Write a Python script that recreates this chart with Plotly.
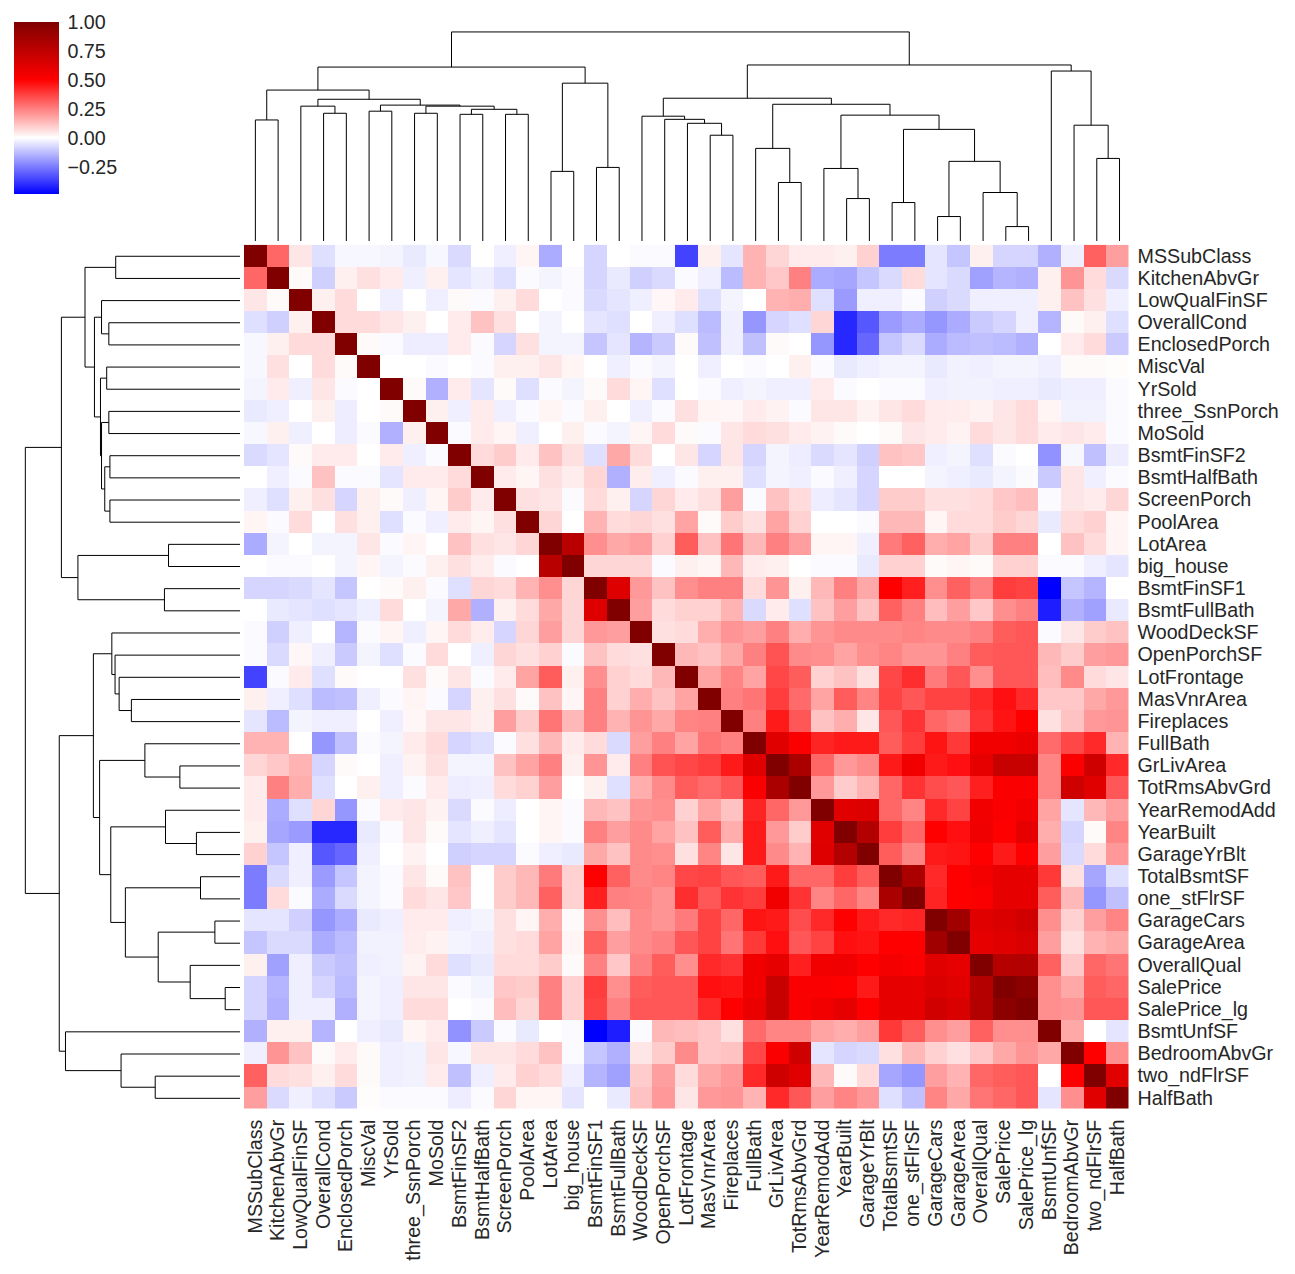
import plotly.graph_objects as go

labels = ["MSSubClass","KitchenAbvGr","LowQualFinSF","OverallCond","EnclosedPorch","MiscVal","YrSold",
          "three_SsnPorch","MoSold","BsmtFinSF2","BsmtHalfBath","ScreenPorch","PoolArea","LotArea","big_house",
          "BsmtFinSF1","BsmtFullBath","WoodDeckSF","OpenPorchSF","LotFrontage","MasVnrArea","Fireplaces",
          "FullBath","GrLivArea","TotRmsAbvGrd","YearRemodAdd","YearBuilt","GarageYrBlt","TotalBsmtSF",
          "one_stFlrSF","GarageCars","GarageArea","OverallQual","SalePrice","SalePrice_lg","BsmtUnfSF",
          "BedroomAbvGr","two_ndFlrSF","HalfBath"]

# Upper triangle of the correlation matrix, one list per row, starting right of the diagonal
corr_upper = [
 [.30,.05,-.06,-.015,-.015,-.02,-.04,-.015,-.07,0,-.03,.02, -.16,0,-.08,0,-.01,-.01,-.36,.03,-.05,.15,.08,.04,.04, .03,.09,-.25,-.25,-.05,-.11,.03,-.08,-.08,-.15,-.03,.31,.19],
 [.01,-.09,.03,.06,.04,-.03,.03,-.05,-.03,-.06,-.01, -.02,-.01,-.08,-.04,-.09,-.07,-.01,-.03,-.13,.15,.11,.25,-.16, -.17,-.11,-.07,.07,-.05,-.07,-.18,-.14,-.15,.03,.21,.07,-.07],
 [.03,.07,0,-.03,0,-.03,.01,-.01,.03,.07, 0,-.01,-.07,-.05,-.03,.015,.04,-.06,-.02,0,.15,.16,-.06, -.19,-.03,-.03,-.01,-.09,-.07,-.03,-.03,-.03,.03,.12,.06,-.03],
 [.07,.07,.05,.03,0,.04,.12,.06,0, -.02,0,-.05,-.06,0,-.03,-.06,-.13,-.03,-.2,-.08,-.06,.08, -.41,-.32,-.19,-.16,-.2,-.16,-.1,-.08,-.03,-.14,.01,.03,-.06],
 [.01,-.01,-.035,-.035,.04,-.01,-.08,.06, -.02,-.02,-.11,-.05,-.14,-.1,.01,-.12,-.03,-.12,.01,0,-.2, -.41,-.29,-.11,-.07,-.16,-.13,-.12,-.13,-.15,0,.04,.07,-.1],
 [0,0,-.01,0,-.01,.03,.03, .05,.02,0,-.03,-.01,-.02,0,-.03,0,-.01,0,.03,-.01, -.04,-.03,-.02,-.02,-.04,-.025,-.03,-.02,-.02,-.03,.01,.01,.005],
 [.01,-.15,.04,-.05,.01,-.06, -.01,-.02,.01,.07,.02,-.06,0,-.01,-.03,-.02,-.03,-.03,.04, -.01,0,-.01,-.01,-.03,-.025,-.025,-.03,-.03,-.04,-.03,-.03,-.01],
 [.03,-.03,.04,-.03,-.01, .02,-.01,.03,0,-.03,-.01,.06,.02,.015,.04,.025,-.01,.05, .05,.025,.05,.07,.04,.035,.025,.05,.07,.02,-.025,-.025,-.01],
 [-.01,.04,.02,-.03, 0,.03,-.01,-.02,.02,.07,.01,-.01,.05,.07,.06,.04,.025, .01,0,.01,.05,.04,.025,.07,.05,.07,.04,.05,.04,-.01],
 [.07,.1,.04, .12,.06,-.06,.17,.07,0,.05,-.08,.05,-.08,-.02,-.035,-.07, -.05,-.09,.12,.11,-.03,-.02,-.06,-.01,0,-.21,-.015,-.12,-.035],
 [.04,.02, .06,.035,.08,-.15,.035,-.03,-.01,.03,.03,-.06,-.02,-.03,-.01, -.03,-.08,0,0,-.02,-.03,-.04,-.02,-.01,-.1,.05,-.03,-.01],
 [.06, .05,-.01,.07,.03,-.08,.08,.04,.06,.19,-.01,.12,.07,-.035, -.05,-.08,.1,.1,.06,.06,.07,.11,.13,-.01,.05,.04,.08],
 [.08,0,.15,.07,.08,.06,.18,.01,.1,.06,.18,.09,0, 0,-.01,.14,.14,.02,.07,.07,.1,.08,-.04,.07,.09,.02],
 [.78,.22,.17,.19,.09,.32,.12,.27,.14,.25,.19,.02, .02,-.03,.26,.31,.16,.18,.1,.25,.25,0,.12,.07,.02],
 [.08,.08,.08,-.01,.03,.02,.14,.04,.03,0,-.01, -.01,-.04,.09,.09,.01,.02,.01,.09,.09,-.01,-.01,-.03,-.05],
 [.63,.2,.12,.22,.25,.25,.07,.21,.03,.14, .25,.17,.5,.44,.22,.31,.25,.38,.37,-.485,-.11,-.14,0],
 [.19,.07,.09,.09,.15,-.07,.04,-.06,.12, .19,.12,.31,.25,.13,.19,.11,.22,.25,-.43,-.15,-.18,-.04],
 [.06,.07,.16,.21,.19,.25,.16,.21, .23,.23,.23,.24,.23,.23,.25,.32,.33,-.01,.05,.1,.12],
 [.14,.12,.17,.25,.34,.23,.22, .18,.22,.24,.21,.21,.25,.32,.33,.33,.14,.1,.19,.2],
 [.18,.24,.18,.36,.32,.09, .12,.06,.36,.41,.26,.33,.22,.33,.33,.13,.23,.07,.05],
 [.25,.27,.38,.29,.18, .32,.24,.37,.33,.37,.37,.42,.47,.42,.11,.11,.17,.2],
 [.25,.45,.33,.12, .16,.05,.33,.4,.3,.27,.4,.46,.5,.06,.12,.2,.21],
 [.62,.52,.43, .45,.45,.32,.38,.46,.39,.55,.55,.58,.29,.36,.42,.15],
 [.83,.3, .2,.23,.45,.55,.45,.47,.6,.72,.72,.24,.52,.69,.42],
 [.2, .1,.15,.3,.4,.35,.33,.44,.52,.52,.24,.69,.62,.33],
 [.62,.63,.3,.24,.42,.37,.55,.52,.55,.18,-.05,.14,.19],
 [.8,.38,.3,.5,.47,.56,.5,.6,.16,-.08,.01,.24],
 [.32,.24,.45,.46,.5,.45,.5,.19,-.07,.07,.2],
 [.83,.42,.5,.54,.6,.6,.39,.06,-.17,-.06],
 [.43,.5,.52,.6,.6,.32,.14,-.2,-.12],
 [.87,.62,.64,.68,.22,.09,.19,.24],
 [.6,.62,.65,.19,.06,.15,.17],
 [.79,.8,.31,.11,.3,.27],
 [.95,.22,.17,.32,.3],
 [.22,.21,.33,.33],
 [.17,0,-.05],
 [.5,.22],
 [.62],
]

# Linkage: (left node, right node, height); leaves are 0..38, merges are numbered from 39
merges = [
 (0,1,.579),(3,4,.611),(2,40,.645),(5,6,.621),(7,8,.611),(9,10,.606),(11,12,.606),(44,45,.630),
 (43,46,.645),(42,47,.650),(41,48,.678),(39,49,.722),(13,14,.333),(15,16,.352),(51,52,.755),(50,53,.832),
 (20,21,.506),(19,55,.563),(18,56,.582),(17,57,.597),(23,24,.280),(22,59,.443),(26,27,.203),(25,61,.347),
 (28,29,.184),(33,34,.069),(32,64,.232),(30,31,.117),(66,65,.381),(63,67,.534),(62,68,.602),(60,69,.654),
 (58,70,.683),(37,38,.395),(36,72,.554),(35,73,.813),(71,74,.842),(54,75,1.0),
]
colorbar_ticks = [-0.25, 0, 0.25, 0.5, 0.75, 1.0]
z_min, z_max = -0.485, 1.0

n = len(labels)
assert len(corr_upper) == n - 1
matrix = [[1.0] * n for _ in range(n)]
for i, row in enumerate(corr_upper):
    assert len(row) == n - 1 - i, i
    for k, v in enumerate(row):
        matrix[i][i + 1 + k] = v
        matrix[i + k + 1][i] = v

# Seismic map, restricted to the range in use
def stop(v):
    return (v - z_min) / (z_max - z_min)
colorscale = [[0, "rgb(0,0,255)"], [stop(0), "rgb(255,255,255)"], [stop(.5), "rgb(255,0,0)"], [1, "rgb(128,0,0)"]]

# Tree geometry
pos = {i: i + .5 for i in range(n)}
hgt = {i: 0.0 for i in range(n)}
along, across = [], []
for k, (a, b, h) in enumerate(merges):
    along += [pos[a], pos[a], pos[b], pos[b], None]
    across += [hgt[a], h, h, hgt[b], None]
    pos[n + k] = (pos[a] + pos[b]) / 2
    hgt[n + k] = h

W, H = 1295, 1274
def xd(a, b): return [a / W, b / W]
def yd(a, b): return [1 - b / H, 1 - a / H]

TXT = "#262626"
FONT = "Liberation Sans, Arial, sans-serif"
FS = 19.7

fig = go.Figure()
fig.add_trace(go.Heatmap(
    z=matrix, x=labels, y=labels, zmin=z_min, zmax=z_max, colorscale=colorscale, xgap=0, ygap=0,
    colorbar=dict(x=14 / W, xanchor="left", xpad=0, y=1 - 22 / H, yanchor="top", ypad=0,
                  lenmode="pixels", len=172, thicknessmode="pixels", thickness=45,
                  outlinewidth=0, tickmode="array", tickvals=colorbar_ticks,
                  ticktext=[f"{t:.2f}".replace("-", "\u2212") for t in colorbar_ticks],
                  ticks="outside", ticklen=5, tickcolor="rgba(0,0,0,0)",
                  tickfont=dict(size=FS, color=TXT, family=FONT)),
))
line = dict(color="black", width=1)
fig.add_trace(go.Scatter(x=[p * 10 if p is not None else None for p in along], y=across, mode="lines",
                         line=line, xaxis="x2", yaxis="y2", hoverinfo="skip", showlegend=False))
fig.add_trace(go.Scatter(x=across, y=[p * 10 if p is not None else None for p in along], mode="lines",
                         line=line, xaxis="x3", yaxis="y3", hoverinfo="skip", showlegend=False))

hidden = dict(visible=False, showgrid=False, zeroline=False)
fig.update_layout(
    width=W, height=H, autosize=False, margin=dict(l=0, r=0, t=0, b=0),
    paper_bgcolor="white", plot_bgcolor="white", showlegend=False,
    font=dict(family=FONT, color=TXT, size=FS),
    xaxis=dict(domain=xd(244, 1128.5), side="bottom", tickangle=-90, tickmode="array", tickvals=labels,
               ticktext=labels, ticks="", showgrid=False, zeroline=False, showline=False, automargin=False,
               tickfont=dict(size=FS, color=TXT, family=FONT), ticklabelstandoff=6, anchor="y"),
    yaxis=dict(domain=yd(244.7, 1108.7), side="right", autorange="reversed", tickmode="array", tickvals=labels,
               ticktext=labels, ticks="", showgrid=False, zeroline=False, showline=False, automargin=False,
               tickfont=dict(size=FS, color=TXT, family=FONT), ticklabelstandoff=8, anchor="x"),
    xaxis2=dict(domain=xd(244, 1130.9), range=[0, 390], anchor="y2", **hidden),
    yaxis2=dict(domain=yd(21.5, 241), range=[0, 1.05], anchor="x2", **hidden),
    xaxis3=dict(domain=xd(14.6, 240), range=[1.05, 0], anchor="y3", **hidden),
    yaxis3=dict(domain=yd(245.2, 1109.4), range=[390, 0], anchor="x3", **hidden),
)
fig.write_html("out.html", config=dict(displayModeBar=False),
               post_script="document.body.style.margin='0';document.body.style.overflow='hidden';")
